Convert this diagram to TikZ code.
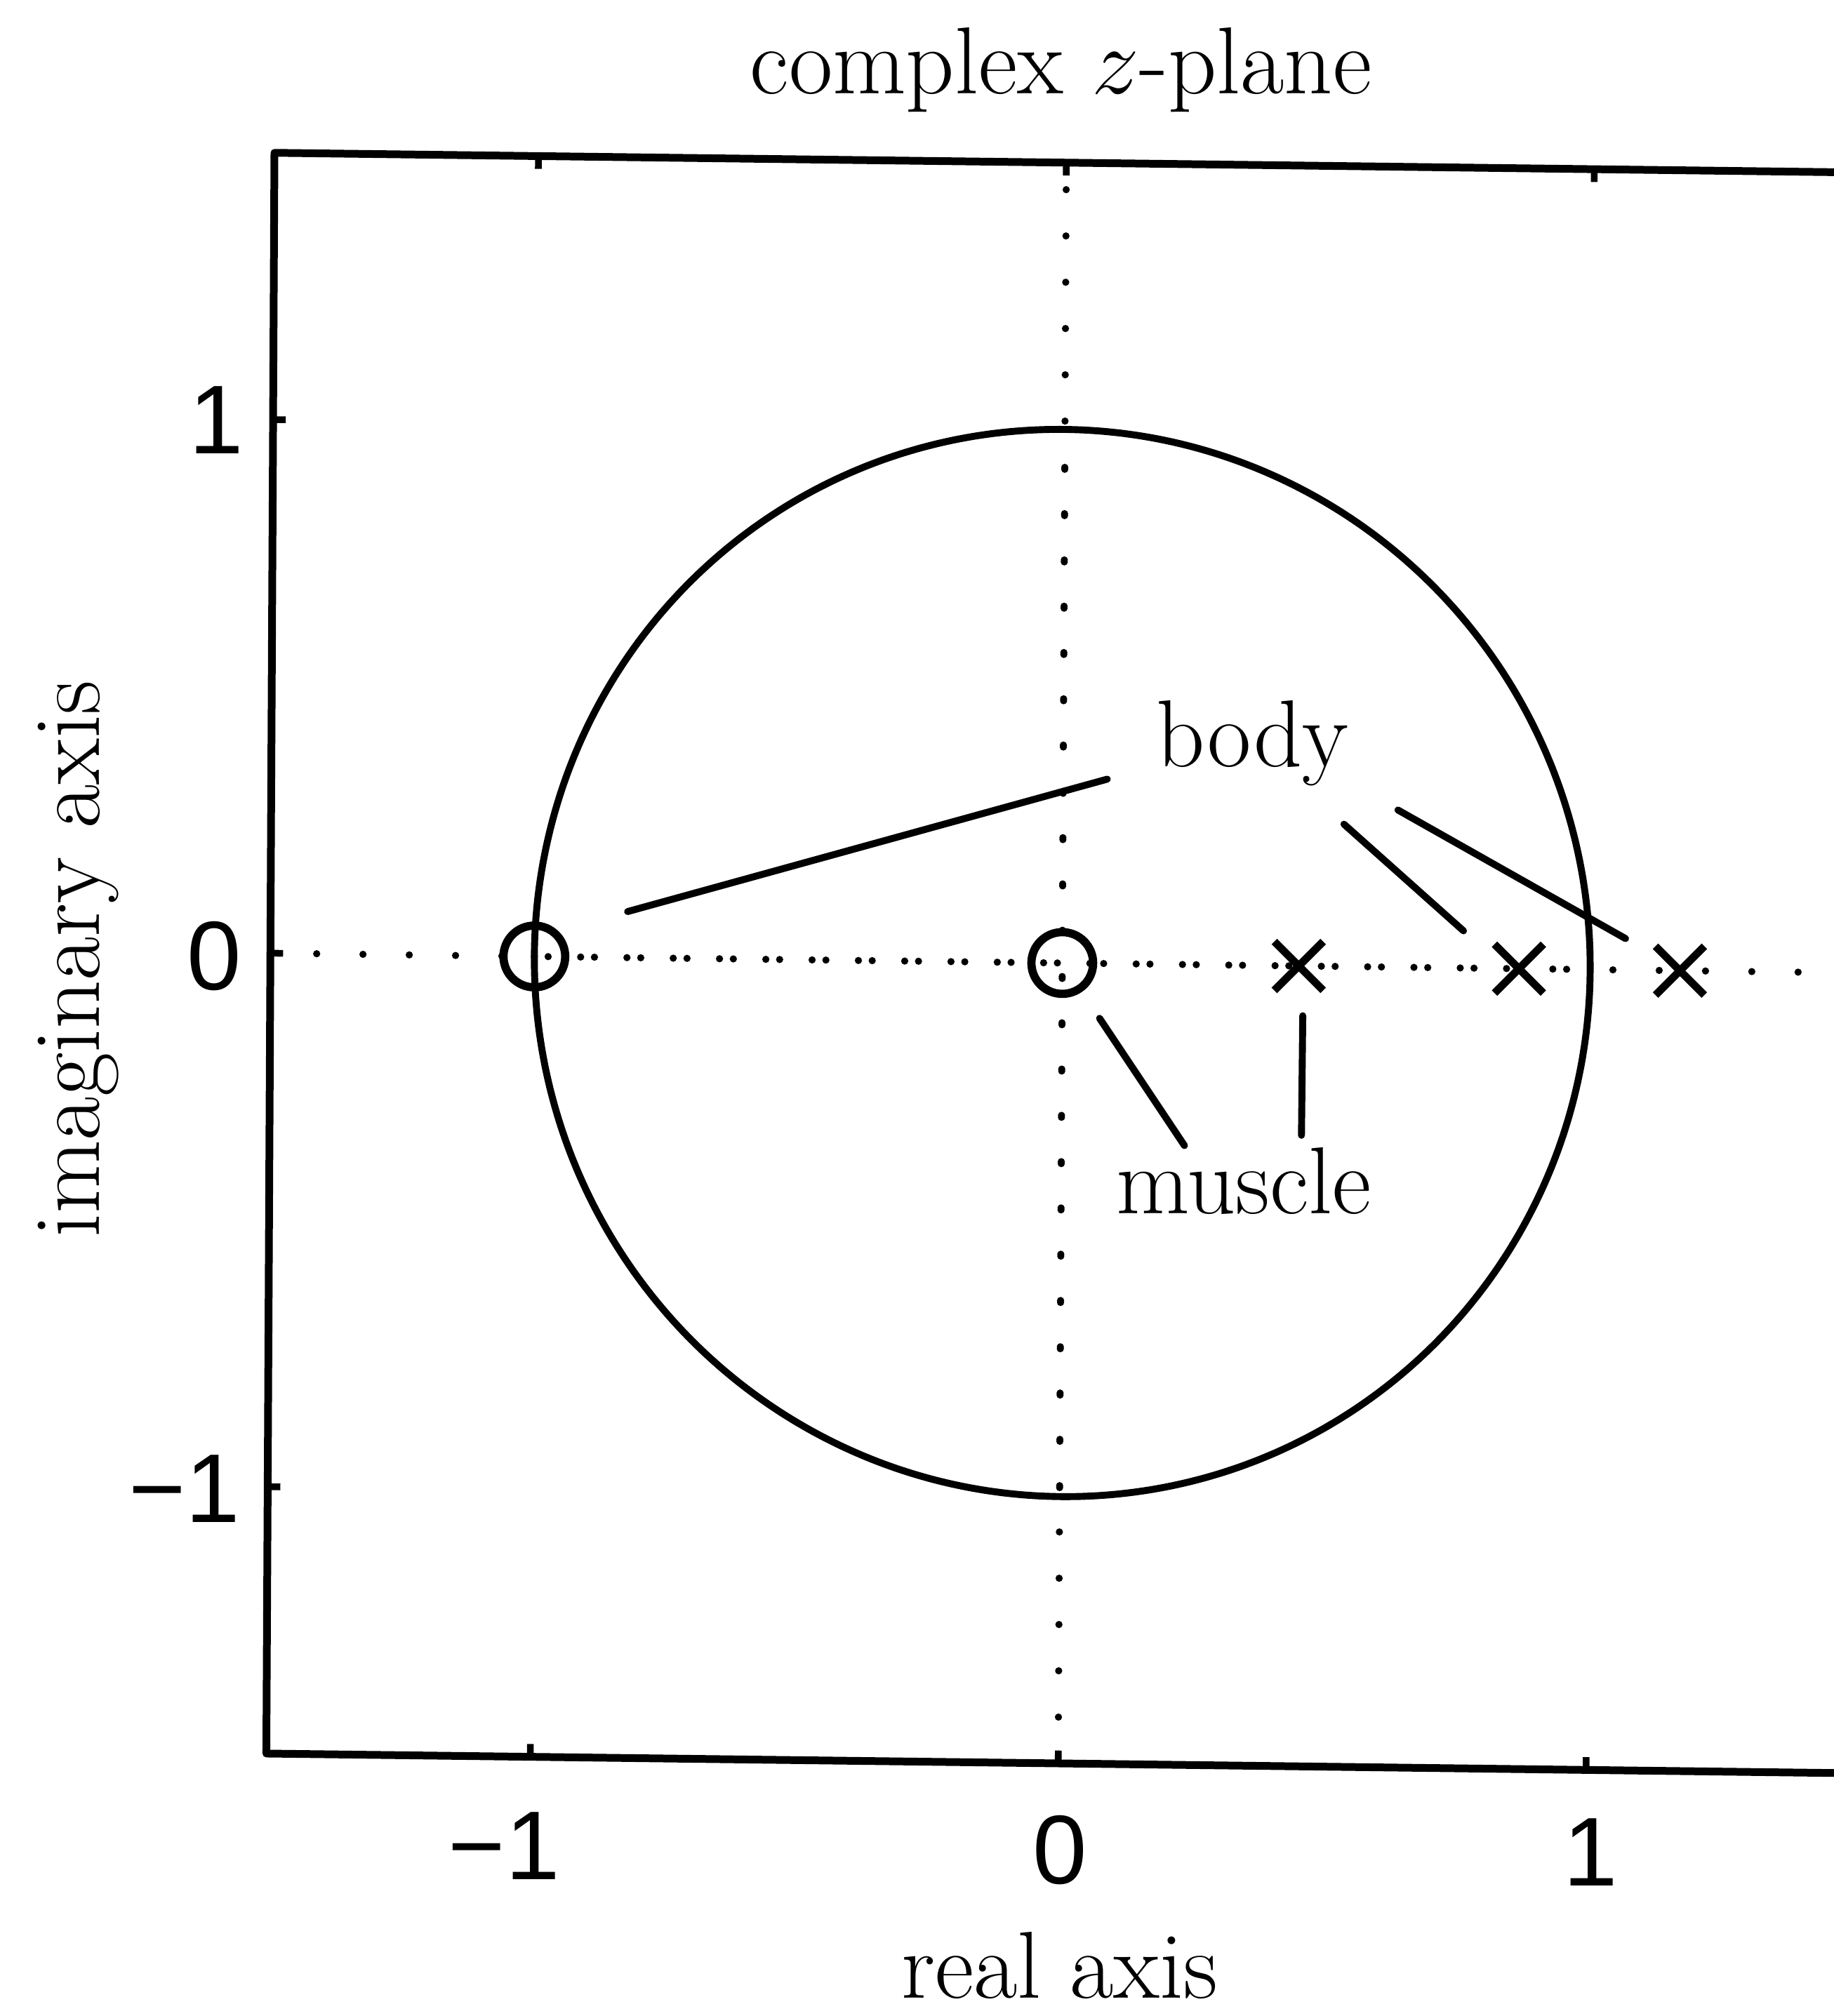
\RequirePackage{fix-cm}
\documentclass[tikz,border=0pt]{standalone}
\usepackage{fontspec}
\newfontfamily\ticksf{Liberation Sans}
\usetikzlibrary{shapes.misc}
\tikzset{
  frame/.style={line width=3pt, line cap=round, line join=round},
  tickmark/.style={line width=2.6pt},
  dotline/.style={line width=2.8pt, line cap=round, dash pattern=on 0pt off 18pt},
  ucircle/.style={line width=2.7pt},
  zeromark/.style={circle, draw, line width=3.2pt, minimum size=24pt, inner sep=0pt},
  polemark/.style={cross out, draw, line width=3pt, minimum size=16pt, inner sep=0pt},
  leader/.style={line width=2.7pt, line cap=round},
  lbl/.style={inner sep=0pt, font=\fontsize{37}{44}\selectfont},
  ticklbl/.style={inner sep=0pt, font=\ticksf\fontsize{38}{44}\selectfont},
}
\begin{document}
\begin{tikzpicture}[x=0.5pt,y=-0.5pt]
\clip (0,0) rectangle (1426,1568);
\fill[white] (0,0) rectangle (1426,1568);
\begin{scope}[shift={(826,749)}, x={(205.25pt,-2.55pt)}, y={(1.05pt,207.5pt)}]
  \draw[dotline] (-1.5,0) -- (1.5,0);
  \draw[dotline] (0,-1.5) -- (0,1.5);
  \draw[dotline] (-1,0) -- (1,0);
  \draw[dotline, dash phase=14.5pt] (0,-1) -- (0,1);
  \draw[ucircle] plot[domain=0:360, samples=181, smooth] ({cos(\x)},{sin(\x)});
  \draw[frame] (-1.5,-1.5) -- (1.5,-1.5) -- (1.5,1.5) -- (-1.5,1.5) -- cycle;
  \foreach \u in {-1,0,1} {
    \draw[tickmark] (\u,1.5) -- (\u,1.476);
    \draw[tickmark] (\u,-1.5) -- (\u,-1.476);
    \draw[tickmark] (-1.5,\u) -- (-1.476,\u);
  }
  \node[zeromark] (z1) at (-1,0) {};
  \node[zeromark] (z2) at (0,0) {};
  \node[polemark] (p1) at (0.448,0) {};
  \node[polemark] (p2) at (0.865,0) {};
  \node[polemark] (p3) at (1.17,0) {};
\end{scope}
% labels
\node[lbl, anchor=base] (title) at (825,73) {complex $z$-plane};
\node[lbl, anchor=base] (xlab) at (824,1554) {real axis};
\node[lbl, anchor=base, rotate=90] (ylab) at (77,746) {imaginary axis};
\node[lbl, anchor=base] (body) at (974,596) {body};
\node[lbl, anchor=base] (muscle) at (967,944) {muscle};
% tick labels
\node[ticklbl, anchor=base] (xtm1) at (392,1462) {−1};
\node[ticklbl, anchor=base] (xt0) at (824,1465) {0};
\node[ticklbl, anchor=base] (xt1) at (1237,1467) {1};
\node[ticklbl, anchor=base east] (yt1) at (190,353) {1};
\node[ticklbl, anchor=base east] (yt0) at (188,770) {0};
\node[ticklbl, anchor=base east] (ytm1) at (187,1184) {−1};
% leader lines
\coordinate (l1a) at (488,709); \coordinate (l1b) at (861,606);
\coordinate (l2a) at (1045,641); \coordinate (l2b) at (1138,724);
\coordinate (l3a) at (1087,630); \coordinate (l3b) at (1264,730);
\coordinate (l4a) at (855,792); \coordinate (l4b) at (921,891);
\coordinate (l5a) at (1013,790); \coordinate (l5b) at (1012,883);
\draw[leader] (l1a) -- (l1b);
\draw[leader] (l2a) -- (l2b);
\draw[leader] (l3a) -- (l3b);
\draw[leader] (l4a) -- (l4b);
\draw[leader] (l5a) -- (l5b);
\end{tikzpicture}
\end{document}
